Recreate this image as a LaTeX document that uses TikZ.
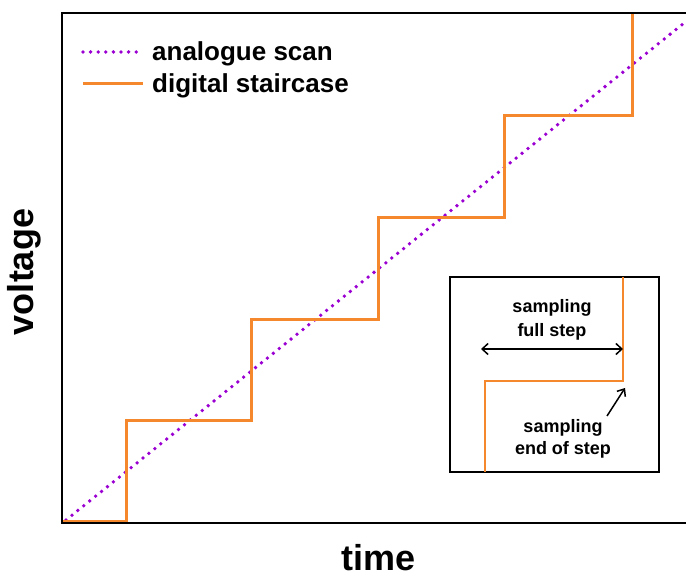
\documentclass[tikz,border=0pt]{standalone}
\usepackage{fontspec}
\setmainfont{Liberation Sans}
\usetikzlibrary{arrows.meta}
\definecolor{stairorange}{RGB}{245,135,45}
\definecolor{scanpurple}{RGB}{155,0,210}
\tikzset{
  frameline/.style={line width=2.5pt, black},
  stairline/.style={line width=3pt, stairorange},
  scanline/.style={line width=3.8pt, scanpurple, line cap=round, dash pattern=on 0pt off 7.6pt},
  insetstair/.style={line width=2pt, stairorange},
  pointer/.style={line width=1.5pt, black},
  axislabel/.style={font=\fontsize{36}{40}\selectfont\bfseries, inner sep=0pt},
  legendtext/.style={font=\fontsize{26}{30}\selectfont\bfseries, inner sep=0pt, anchor=base west},
  insettext/.style={font=\fontsize{18}{22}\selectfont\bfseries, inner sep=0pt, anchor=base},
}
\begin{document}
\begin{tikzpicture}[x=1pt, y=-1pt]
  \useasboundingbox (0,0) rectangle (686,577);

  % corners of the staircase
  \coordinate (s0) at (62,521);
  \coordinate (s1) at (126,521);
  \coordinate (s2) at (126,421);
  \coordinate (s3) at (251,421);
  \coordinate (s4) at (251,320);
  \coordinate (s5) at (378,320);
  \coordinate (s6) at (378,218);
  \coordinate (s7) at (504,218);
  \coordinate (s8) at (504,116);
  \coordinate (s9) at (632,116);
  \coordinate (s10) at (632,13);

  % analogue ramp
  \coordinate (r0) at (66,520);
  \coordinate (r1) at (686,21.5);
  \draw[scanline] (r0) -- (r1);

  % digital staircase
  \draw[stairline, line join=miter] (s0) -- (s1) -- (s2) -- (s3) -- (s4) -- (s5)
    -- (s6) -- (s7) -- (s8) -- (s9) -- (s10);

  % axes frame, open on the right
  \coordinate (f0) at (686,13);
  \coordinate (f1) at (62,13);
  \coordinate (f2) at (62,523);
  \coordinate (f3) at (686,523);
  \draw[frameline, line join=miter] (f0) -- (f1) -- (f2) -- (f3);

  % legend
  \coordinate (la) at (83,52);
  \coordinate (lb) at (138,52);
  \draw[scanline] (la) -- (lb);
  \coordinate (lc) at (83,84);
  \coordinate (ld) at (143,84);
  \draw[stairline] (lc) -- (ld);
  \node[legendtext] (leg1) at (152,61) {analogue scan};
  \node[legendtext] (leg2) at (152,93) {digital staircase};

  % axis labels
  \node[axislabel, rotate=90, anchor=base] (ylab) at (34,272) {voltage};
  \node[axislabel, anchor=base] (xlab) at (379,570) {time};

  % inset: sampling detail
  \draw[line width=2pt, fill=white] (450,277) rectangle (659,472);
  \coordinate (i0) at (623,277);
  \coordinate (i1) at (623,381);
  \coordinate (i2) at (485,381);
  \coordinate (i3) at (485,472);
  \draw[insetstair] (i0) -- (i1) -- (i2) -- (i3);

  \coordinate (a0) at (481,349);
  \coordinate (a1) at (623,349);
  \draw[pointer, {Straight Barb[length=6pt,width=11pt]}-{Straight Barb[length=6pt,width=11pt]}] (a0) -- (a1);
  \coordinate (b0) at (607,416);
  \coordinate (b1) at (625,388);
  \draw[pointer, -{Straight Barb[length=6pt,width=10pt]}] (b0) -- (b1);

  \node[insettext] (t1) at (552,313) {sampling};
  \node[insettext] (t2) at (552,337) {full step};
  \node[insettext] (t3) at (563,432) {sampling};
  \node[insettext] (t4) at (563,455) {end of step};
\end{tikzpicture}
\end{document}
